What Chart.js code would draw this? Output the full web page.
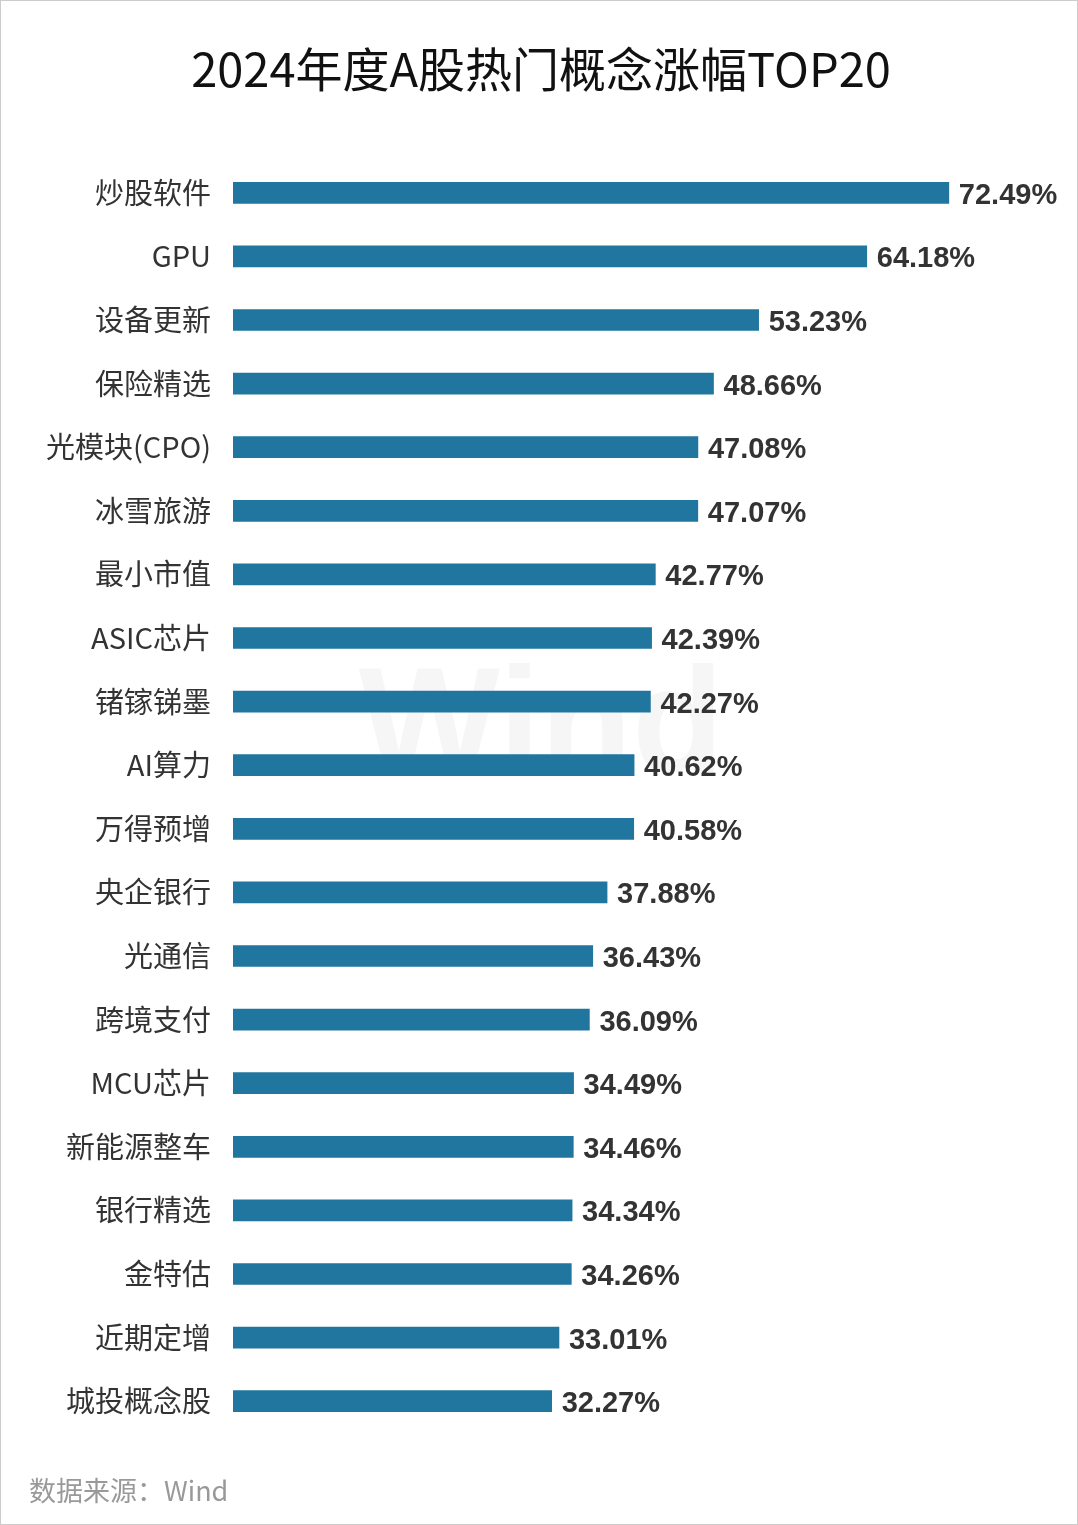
<!DOCTYPE html>
<html><head><meta charset="utf-8">
<script src="https://cdn.jsdelivr.net/npm/chart.js@4"></script>
<style>
html,body{margin:0;padding:0;background:#fff;}
#wrap{position:relative;width:1076px;height:1523px;border:1px solid #ccc;}
canvas{position:absolute;left:0;top:0;}
</style></head><body>
<div id="wrap"><canvas id="c" width="1076" height="1523"></canvas></div>
<script>
const categories = ["炒股软件","GPU","设备更新","保险精选","光模块(CPO)","冰雪旅游","最小市值","ASIC芯片","锗镓锑墨","AI算力","万得预增","央企银行","光通信","跨境支付","MCU芯片","新能源整车","银行精选","金特估","近期定增","城投概念股"];
const values = [72.49,64.18,53.23,48.66,47.08,47.07,42.77,42.39,42.27,40.62,40.58,37.88,36.43,36.09,34.49,34.46,34.34,34.26,33.01,32.27];
const FONT = '"Noto Sans CJK SC","Noto Sans",sans-serif';
const extras = {
  id:'extras',
  beforeDraw(c){
    const g=c.ctx; g.save();
    g.fillStyle='rgba(0,0,0,0.035)'; g.font='bold 150px Arial'; g.textAlign='center'; g.textBaseline='middle';
    g.fillText('Wind',540,730);
    g.restore();
  },
  afterDraw(c){
    const g=c.ctx; g.save();
    g.fillStyle='#111'; g.font='47px '+FONT; g.textAlign='center'; g.textBaseline='middle';
    g.fillText('2024年度A股热门概念涨幅TOP20',540,68);
    g.fillStyle='#999'; g.font='27px '+FONT; g.textAlign='left';
    g.fillText('数据来源：Wind',28,1490);
    const m=c.getDatasetMeta(0);
    g.fillStyle='#333'; g.font='bold 29px "Liberation Sans",Arial'; g.textAlign='left';
    m.data.forEach((b,i)=>g.fillText(values[i].toFixed(2)+'%',b.x+10,b.y+3));
    g.restore();
  }
};
new Chart(document.getElementById('c'),{
  type:'bar',
  data:{labels:categories,datasets:[{data:values,backgroundColor:'#21769f',barThickness:21}]},
  options:{
    indexAxis:'y',responsive:false,animation:false,
    layout:{padding:{top:160,bottom:91,right:54,left:0}},
    plugins:{legend:{display:false},tooltip:{enabled:false}},
    scales:{
      x:{min:0,max:80,display:false},
      y:{grid:{display:false},border:{display:false},
         ticks:{color:'#333',font:{family:FONT,size:29},padding:14},
         afterFit(s){s.width=232;}}
    }
  },
  plugins:[extras]
});
</script></body></html>
